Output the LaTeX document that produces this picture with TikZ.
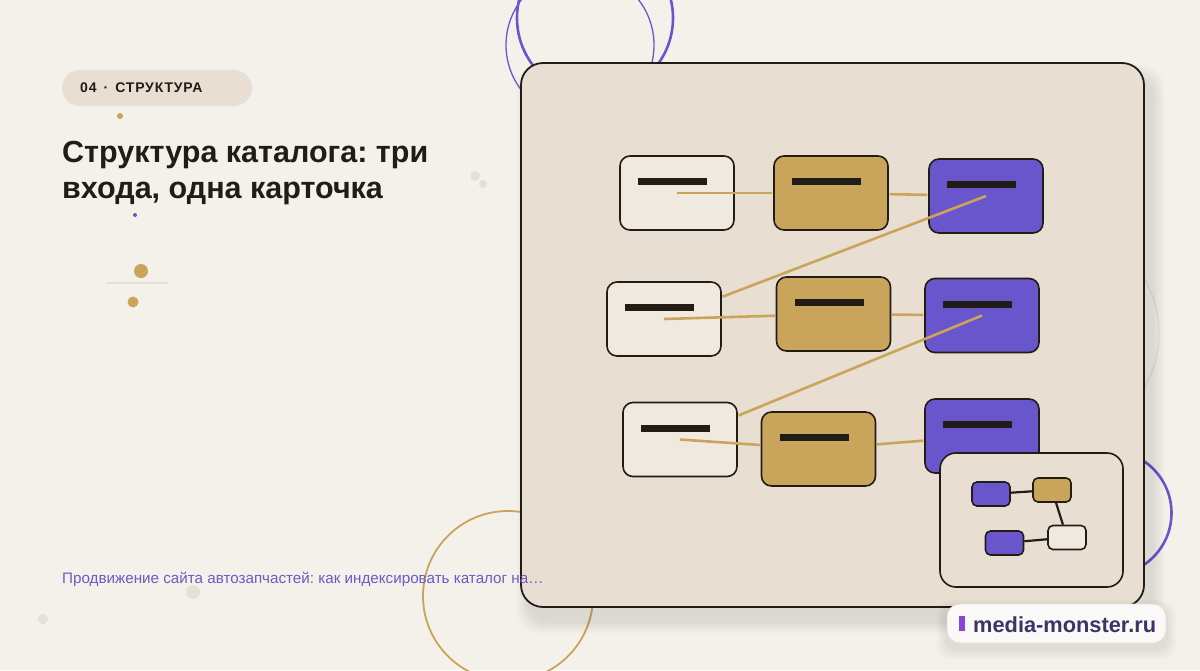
\documentclass[tikz,border=0pt]{standalone}
\usepackage{fontspec}
\setmainfont{Liberation Sans}
\newfontfamily\tagfont[LetterSpace=6]{Liberation Sans}
\definecolor{paper}{HTML}{F4F1EA}
\definecolor{sand}{HTML}{E8DFD2}
\definecolor{cream}{HTML}{EFE9DF}
\definecolor{gold}{HTML}{C8A55A}
\definecolor{violet}{HTML}{6A56CC}
\definecolor{ink}{HTML}{221C17}
\definecolor{mist}{HTML}{E5DFD6}
\definecolor{linkcol}{HTML}{6B5BC6}
\definecolor{navy}{HTML}{3B3466}
\definecolor{pillcol}{HTML}{E8DFD2}
\tikzset{
  card/.style={rectangle,rounded corners=10pt,draw=ink,line width=1.6pt,
    minimum width=114pt,minimum height=74pt,inner sep=0pt,
    path picture={\fill[ink,sharp corners] ([xshift=18pt,yshift=-22pt]path picture bounding box.north west) rectangle ++(69,7);}},
  entry/.style={card,fill=cream},
  hub/.style={card,fill=gold},
  leaf/.style={card,fill=violet},
  link/.style={draw=gold,line width=2.6pt,shorten >=0.8pt},
  mini/.style={rectangle,rounded corners=5pt,draw=ink,line width=1.6pt,
    minimum width=38pt,minimum height=24pt,inner sep=0pt},
  minilink/.style={draw=ink,line width=2.2pt},
  softshade/.style={fill=black,fill opacity=0.017},
}
\frenchspacing
\begin{document}
\begin{tikzpicture}[x=1pt,y=-1pt]
  \fill[paper] (0,0) rectangle (1200,670);
  \useasboundingbox (0,0) rectangle (1200,670);
  % background rings and dots
  \draw[gold,line width=1.8pt] (508,596) circle (85pt);
  \draw[violet,line width=1.3pt] (580,45) circle (74pt);
  \draw[violet,line width=2.6pt] (595,18) circle (78pt);
  \draw[violet,line width=2.6pt] (1109,513) circle (62.5pt);
  \draw[mist,line width=1pt] (1051,333) circle (108pt);
  \fill[gold] (120,116) circle (3pt);
  \fill[violet] (135,215) circle (2pt);
  \fill[gold] (141,271) circle (7pt);
  \fill[gold] (133,302) circle (5.5pt);
  \draw[mist,line width=1.5pt] (107,283) -- (168,283);
  \fill[mist] (475,176) circle (5pt);
  \fill[mist] (483,184) circle (4pt);
  \fill[mist] (193,592) circle (7pt);
  \fill[mist] (43,619) circle (5pt);
  % tag and title
  \fill[pillcol,rounded corners=18pt] (62,70) rectangle (252,106);
  \node[anchor=base west,inner sep=0pt,text=ink] (tag) at (80,92)
    {\tagfont\fontsize{14}{16}\selectfont\bfseries 04\hspace{7pt}·\hspace{7pt}СТРУКТУРА};
  \node[anchor=base west,inner sep=0pt,text=ink] (title1) at (62,162)
    {\fontsize{30.5}{36}\selectfont\bfseries Структура каталога: три};
  \node[anchor=base west,inner sep=0pt,text=ink] (title2) at (62,198)
    {\fontsize{30.5}{36}\selectfont\bfseries входа, одна карточка};
  % main panel with soft shadow
  \foreach \s in {2,4,...,12}
    \fill[softshade,rounded corners=22pt] (521+8-\s,63+14-\s) rectangle (1144+8+\s,607+14+\s);
  \node[rectangle,rounded corners=22pt,draw=ink,line width=1.8pt,fill=sand,
    minimum width=623pt,minimum height=544pt] (panel) at (832.5,335) {};
  \node[entry] (A1) at (677,193) {};
  \node[hub] (B1) at (831,193) {};
  \node[leaf] (C1) at (986,196) {};
  \node[entry] (A2) at (664,319) {};
  \node[hub] (B2) at (833.5,314) {};
  \node[leaf] (C2) at (982,315.5) {};
  \node[entry] (A3) at (680,439.5) {};
  \node[hub] (B3) at (818.5,449) {};
  \node[leaf] (C3) at (982,436) {};
  \draw[link] (A1.center) -- (B1);
  \draw[link,shorten <=0.8pt] (B1) -- (C1);
  \draw[link] (C1.center) -- (A2);
  \draw[link] (A2.center) -- (B2);
  \draw[link,shorten <=0.8pt] (B2) -- (C2);
  \draw[link] (C2.center) -- (A3);
  \draw[link] (A3.center) -- (B3);
  \draw[link,shorten <=0.8pt] (B3) -- (C3);
  % inset map
  \node[rectangle,rounded corners=16pt,draw=ink,line width=1.6pt,fill=sand,
    minimum width=183pt,minimum height=134pt] (inset) at (1031.5,520) {};
  \node[mini,fill=violet] (P1) at (991,494) {};
  \node[mini,fill=gold] (G1) at (1052,490) {};
  \node[mini,fill=violet] (P2) at (1004.5,543) {};
  \node[mini,fill=cream] (L1) at (1067,537.5) {};
  \draw[minilink] (P1) -- (G1);
  \draw[minilink] (G1) -- (L1);
  \draw[minilink] (P2) -- (L1);
  % related link text
  \node[anchor=base west,inner sep=0pt,text=linkcol] (more) at (62,583)
    {\fontsize{15.2}{17}\selectfont Продвижение сайта автозапчастей: как индексировать каталог на…};
  % badge
  \foreach \s in {2,4,...,10}
    \fill[softshade,rounded corners=13pt] (947-\s,604+6-\s) rectangle (1166+\s,643+6+\s);
  \node[rectangle,rounded corners=13pt,draw=mist,line width=0.8pt,fill=white!60!paper,
    minimum width=219pt,minimum height=39pt] (badge) at (1056.5,623.5) {};
  \fill[violet!80!magenta] (959,616) rectangle (965,631);
  \node[anchor=base west,inner sep=0pt,text=navy] (site) at (973,632)
    {\fontsize{21.8}{24}\selectfont\bfseries media-monster.ru};
\end{tikzpicture}
\end{document}
